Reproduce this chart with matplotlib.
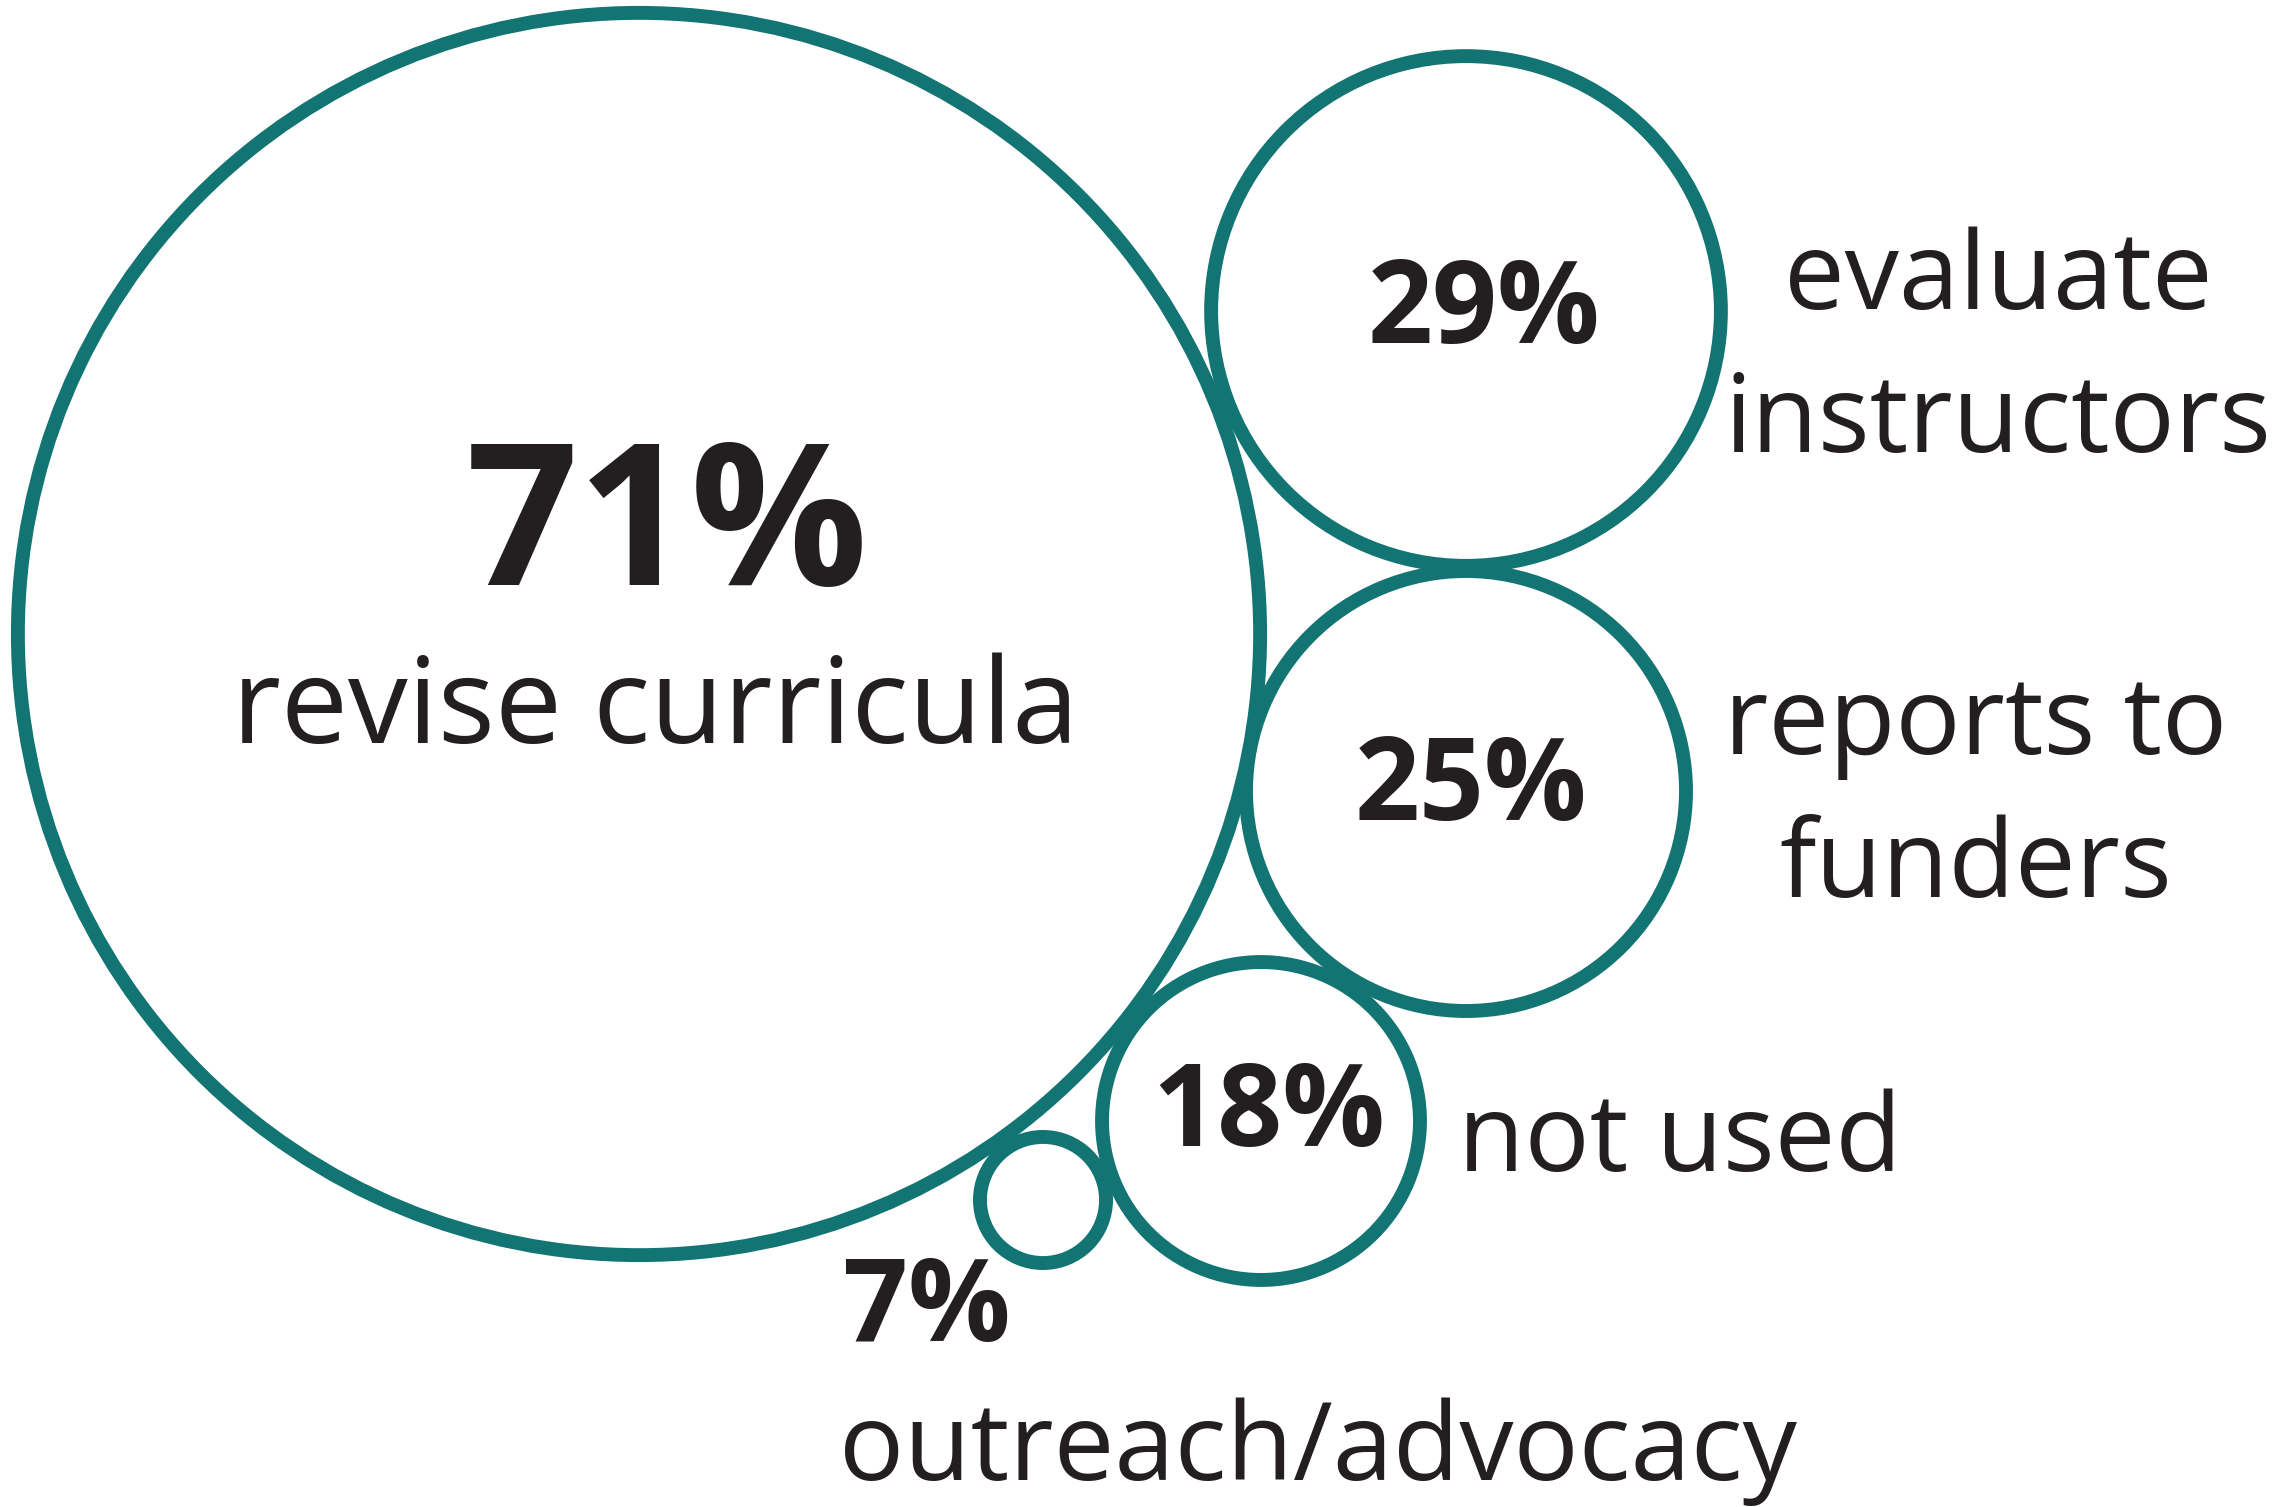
import matplotlib
matplotlib.use('Agg')
import matplotlib.pyplot as plt
from matplotlib.patches import Circle

# data
labels = ['revise curricula', 'evaluate\ninstructors', 'reports to\nfunders', 'not used', 'outreach/advocacy']
values = [71, 29, 25, 18, 7]

# layout (figure pixels, y down)
centers = [(639, 634), (1466, 311), (1466, 791), (1261, 1121), (1043, 1200)]
pct_pos = [(667, 585), (1484, 343), (1471, 820), (1269, 1146), (927, 1341)]
pct_size = [142, 82, 82, 82, 82]
label_pos = [(655, 743, 'center'), (1998, 309, 'center'), (1976, 754, 'center'),
             (1458, 1171, 'left'), (839, 1480, 'left')]
label_size = [86, 78, 78, 78, 78]
line_gap = 143

teal = '#127473'
ink = '#231f20'
W, H = 2275, 1507

fig = plt.figure(figsize=(W / 100, H / 100), dpi=100)
ax = fig.add_axes([0, 0, 1, 1])
ax.set_xlim(0, W)
ax.set_ylim(H, 0)
ax.axis('off')

for v, (cx, cy) in zip(values, centers):
    r = 8.72 * v + 2
    ax.add_patch(Circle((cx, cy), r, fill=False, edgecolor=teal, linewidth=10))

for v, (x, y), fs in zip(values, pct_pos, pct_size):
    ax.text(x, y, f'{v}%', ha='center', va='baseline', fontsize=fs,
            fontweight='bold', color=ink, family='Open Sans')

for lab, (x, y, ha), fs in zip(labels, label_pos, label_size):
    for k, line in enumerate(lab.split('\n')):
        ax.text(x, y + k * line_gap, line, ha=ha, va='baseline', fontsize=fs,
                color=ink, family='Open Sans')

fig.savefig('out.png', dpi=100, facecolor='white')
